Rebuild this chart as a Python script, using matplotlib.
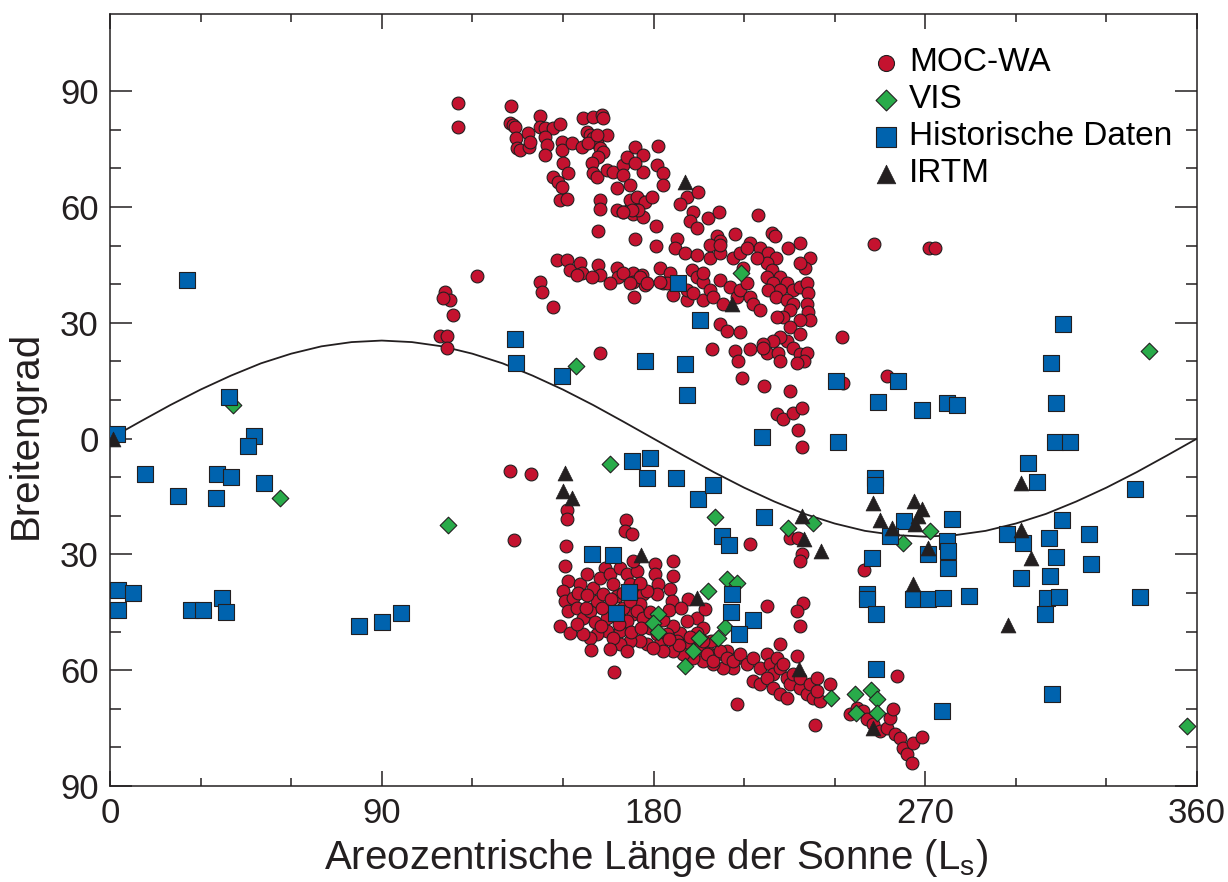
import matplotlib
matplotlib.use("Agg")
import matplotlib.pyplot as plt
from matplotlib.ticker import FixedLocator

plt.rcParams["font.family"] = ["Liberation Sans", "DejaVu Sans"]
plt.rcParams["mathtext.fontset"] = "custom"
plt.rcParams["mathtext.rm"] = "Liberation Sans"
plt.rcParams["mathtext.it"] = "Liberation Sans:italic"

# (Ls, Breitengrad)
moc_north = [
    (115.3, 86.9), (115.3, 80.7), (132.8, 86.1), (132.5, 81.7), (133.5, 81.2), (134.2, 80.7),
    (142.4, 83.5), (142.4, 80.7), (144.0, 80.4), (146.7, 80.4), (149.0, 81.4),
    (134.5, 77.8), (134.8, 75.2), (135.8, 74.7), (138.8, 75.5), (138.5, 79.1), (139.1, 76.8),
    (144.0, 78.1), (144.8, 76.0), (144.0, 73.4), (149.7, 76.8), (149.7, 74.7), (153.0, 76.5), (156.3, 75.5),
    (150.0, 71.3), (151.7, 68.7), (146.7, 67.7), (148.4, 66.4), (149.7, 65.1), (149.0, 61.7), (151.4, 62.2),
    (156.7, 83.0), (160.0, 83.2), (163.0, 83.8), (163.3, 83.0),
    (158.0, 79.4), (159.0, 78.6), (160.0, 77.8), (161.3, 76.5), (162.3, 75.2), (164.6, 78.6),
    (158.3, 76.5), (161.3, 78.6), (163.3, 74.2), (161.6, 72.9),
    (159.7, 71.3), (160.0, 68.7), (161.3, 67.7), (164.6, 69.5), (166.6, 69.0), (169.9, 70.8),
    (171.2, 72.9), (173.9, 75.5), (176.6, 73.4), (176.6, 69.0), (169.9, 68.2), (172.2, 65.6), (167.9, 64.8),
    (162.3, 61.7), (162.3, 59.6), (168.0, 59.1), (170.0, 58.6), (172.2, 59.6), (174.6, 60.4),
    (176.6, 61.2), (173.2, 58.3), (176.6, 57.3), (161.6, 53.7), (173.9, 51.6),
    (148.0, 46.2), (151.4, 46.2), (152.4, 43.6), (155.7, 45.4), (156.3, 43.0), (154.7, 42.3),
    (161.6, 44.9), (162.3, 42.3), (159.7, 41.8), (168.0, 44.1), (168.3, 41.8), (165.6, 40.2),
    (173.2, 42.8), (176.2, 42.3), (177.2, 39.7), (173.2, 40.5),
    (142.4, 40.5), (143.1, 37.9), (146.7, 34.2), (121.6, 42.0), (173.6, 36.6),
    (111.0, 37.9), (112.6, 35.8), (110.3, 36.3), (113.6, 31.9), (109.3, 26.7), (111.6, 26.7),
    (111.6, 23.6), (162.3, 22.3),
    (181.5, 75.7), (173.9, 71.3), (181.2, 70.8), (183.2, 68.7), (183.2, 65.6),
    (191.1, 62.5), (188.8, 60.9), (194.8, 63.8),
    (172.2, 61.7), (174.6, 62.5), (177.2, 61.2), (179.5, 62.5), (174.9, 59.1), (172.9, 59.1), (169.9, 58.6),
    (180.9, 55.0), (193.1, 58.6), (192.1, 56.5), (194.4, 54.5), (198.1, 57.1), (201.7, 58.6), (214.6, 57.8),
    (180.9, 49.8), (187.8, 51.6), (187.1, 49.3), (190.5, 48.2), (194.4, 47.5),
    (201.1, 52.6), (202.0, 51.3), (207.0, 52.9), (212.0, 50.8), (198.7, 46.7), (202.0, 48.2),
    (219.3, 53.2), (220.3, 52.6), (224.6, 49.3), (228.6, 50.6), (231.9, 46.7), (230.2, 44.3), (228.6, 45.6),
    (215.3, 49.5), (217.9, 48.0), (220.6, 46.9), (217.6, 45.4), (219.3, 43.6), (221.9, 41.8),
    (217.6, 41.8), (219.6, 40.2), (224.2, 40.2), (226.2, 38.4), (221.9, 38.4), (217.9, 38.4),
    (220.6, 36.6), (224.2, 35.8), (226.2, 35.0), (228.6, 39.2), (230.9, 40.2), (231.2, 37.6),
    (230.9, 35.0), (231.2, 32.7), (231.9, 30.6), (228.6, 30.6), (225.2, 33.2), (222.9, 31.4),
    (220.9, 31.4), (225.2, 28.8), (228.6, 27.2), (224.2, 25.4), (221.9, 26.2), (219.6, 25.4),
    (216.3, 24.6), (217.6, 22.3), (221.3, 22.3), (226.2, 23.6), (228.6, 22.0), (230.9, 22.3),
    (229.9, 20.2), (227.5, 19.7),
    (182.2, 44.1), (185.5, 43.0), (183.2, 40.2), (186.5, 37.1), (191.1, 35.8), (192.8, 43.6),
    (194.4, 41.8), (196.4, 40.5), (196.4, 35.8), (198.7, 38.4), (199.7, 36.6), (202.0, 41.0),
    (203.1, 35.0), (205.4, 39.2), (207.7, 36.6), (208.7, 38.4), (211.0, 40.2), (212.0, 36.6),
    (213.0, 35.0), (215.3, 33.2), (209.7, 44.3), (214.3, 46.9), (206.4, 46.7), (208.7, 48.2),
    (211.0, 49.5), (198.7, 50.1), (202.0, 50.1), (196.4, 42.8), (191.1, 38.4), (193.1, 37.6),
    (169.9, 42.8), (175.6, 41.8), (177.9, 40.2), (172.2, 40.2), (184.5, 40.2), (182.2, 40.5),
    (202.0, 29.8), (204.4, 28.0), (208.7, 27.5),
    (199.4, 23.1), (207.0, 22.8), (208.0, 20.2), (212.0, 23.3), (216.3, 23.6), (221.9, 20.2),
    (209.3, 15.8), (216.6, 13.5), (225.2, 12.4), (220.9, 6.5), (222.9, 5.2), (226.2, 6.7),
    (229.2, 8.0), (227.9, 2.1), (229.2, -2.3),
    (242.5, 26.2), (253.0, 50.3), (271.3, 49.5), (273.3, 49.3), (257.4, 16.1), (242.8, 14.3),
]

moc_south = [
    (132.5, -8.3), (139.4, -9.1), (133.8, -26.2), (151.4, -18.4), (151.4, -20.7), (151.0, -27.7),
    (170.9, -21.0), (170.6, -23.9), (172.9, -24.6),
    (150.7, -32.9), (151.7, -36.8), (150.0, -39.4), (150.7, -42.0), (151.7, -44.6), (149.0, -48.5), (152.4, -50.3),
    (153.4, -41.2), (154.7, -43.8), (156.7, -46.4), (159.0, -44.6), (161.3, -42.0), (155.7, -37.6),
    (158.0, -35.0), (160.0, -38.6), (163.3, -40.2), (163.9, -33.5), (162.3, -36.0), (165.6, -35.0),
    (166.6, -37.6), (167.9, -40.7), (169.0, -33.5), (171.2, -35.0), (174.6, -34.2), (172.2, -37.6),
    (175.6, -37.6), (176.6, -40.2), (175.6, -42.8), (173.2, -45.4), (171.2, -47.2), (169.0, -49.8),
    (164.6, -49.8), (161.3, -50.6), (159.0, -51.6), (156.7, -50.6), (154.7, -48.0), (164.6, -46.4),
    (167.9, -44.6), (169.9, -43.8), (172.2, -42.0), (174.6, -44.6), (176.6, -46.4), (178.9, -49.0),
    (181.2, -50.6), (182.2, -53.2), (177.9, -53.2), (175.6, -52.4), (172.2, -52.4), (169.0, -53.2), (166.6, -51.6),
    (180.5, -32.4), (186.5, -31.6), (186.5, -35.5), (180.5, -35.0), (181.5, -37.6), (185.5, -38.9),
    (186.2, -42.0), (181.2, -40.2), (177.9, -39.4), (175.6, -37.3), (173.2, -31.6),
    (191.5, -41.5), (194.4, -46.4), (197.1, -44.1), (196.4, -49.0), (194.4, -50.3), (191.1, -47.2),
    (188.8, -50.3), (186.5, -48.5), (184.5, -50.6), (187.8, -52.4), (191.1, -53.2), (194.4, -54.2),
    (197.7, -55.0), (201.1, -55.8), (204.4, -55.0), (207.7, -56.8), (206.4, -59.4), (203.1, -59.4),
    (199.7, -58.4), (196.4, -57.6), (193.1, -56.8), (189.8, -55.8), (186.5, -55.0), (183.2, -55.0), (179.9, -54.2),
    (159.3, -54.7), (165.6, -54.5), (171.2, -55.0), (166.9, -60.4),
    (195.4, -54.2), (197.7, -55.8), (199.7, -57.6), (202.0, -55.0), (204.4, -56.8), (206.4, -57.6),
    (208.7, -55.8), (211.0, -58.4), (213.0, -56.8), (215.3, -59.4), (217.6, -55.8), (218.6, -58.4),
    (219.6, -60.9), (220.9, -56.8), (221.9, -59.4), (224.2, -62.0), (222.9, -58.4), (225.2, -63.5),
    (226.2, -60.9), (228.6, -64.6), (228.6, -62.0), (230.9, -66.1), (231.9, -63.5), (232.9, -67.2),
    (234.2, -62.0), (235.2, -67.9), (234.2, -65.4), (221.9, -53.2), (227.5, -56.3), (213.0, -62.8),
    (215.3, -63.5), (217.6, -62.0), (219.6, -64.6), (221.9, -66.1), (224.2, -67.2),
    (238.5, -63.5), (207.7, -68.7), (233.5, -74.2), (260.7, -61.5),
    (245.1, -71.3), (247.4, -69.8), (249.4, -70.5), (250.7, -72.6), (252.7, -73.9), (255.0, -75.7),
    (257.4, -74.9), (258.4, -72.4), (259.4, -70.0), (260.0, -76.5), (261.7, -77.5), (262.7, -80.1),
    (264.0, -81.7), (265.6, -84.0), (266.0, -78.8), (268.9, -77.3),
    (212.0, -27.2), (225.2, -25.7), (227.9, -25.7), (229.2, -29.8), (228.6, -31.6), (229.5, -42.5),
    (227.5, -44.6), (228.6, -48.5), (217.6, -43.3), (249.7, -34.0),
    (155.0, -40.0), (157.5, -44.0), (160.5, -47.5), (163.0, -44.0), (166.0, -41.5), (170.0, -40.0),
    (158.0, -40.5), (162.5, -48.5), (168.5, -48.0), (172.5, -50.0), (176.0, -49.0), (179.0, -45.0),
    (183.0, -47.0), (185.0, -44.5), (189.0, -44.0), (192.0, -51.5), (188.5, -53.5), (199.0, -52.5),
    (196.5, -52.5), (185.0, -52.0),
]

vis = [
    (40.7, 8.6), (56.3, -15.3), (112.0, -22.3), (154.4, 18.7), (165.6, -6.5), (209.0, 43.0),
    (181.5, -45.4), (179.9, -47.7), (181.5, -50.1), (198.1, -39.4), (204.4, -36.3), (207.7, -37.3),
    (195.1, -51.6), (193.1, -55.0), (190.5, -58.9), (200.4, -20.2), (203.7, -48.8), (201.4, -51.6),
    (224.6, -23.1), (232.9, -21.8), (238.8, -67.2), (246.8, -66.1), (252.1, -65.1), (254.0, -67.4),
    (247.1, -71.1), (254.0, -71.1), (271.6, -23.9), (262.7, -27.0), (344.2, 22.6), (356.7, -74.4),
]

historisch = [
    (25.5, 41.0), (39.4, 10.9), (2.3, 1.3), (47.7, 0.8), (45.7, -1.8), (11.6, -9.3), (22.5, -15.0),
    (35.4, -9.3), (40.1, -9.9), (35.1, -15.3), (51.0, -11.4), (2.6, -39.2), (2.6, -44.3), (7.6, -39.9),
    (26.8, -44.3), (30.8, -44.3), (37.1, -41.2), (38.4, -44.9), (82.5, -48.5), (90.1, -47.5), (96.4, -45.1),
    (134.1, 25.7), (134.5, 19.5), (149.7, 16.1), (177.2, 20.2), (190.5, 19.2), (195.4, 30.6),
    (188.1, 40.2), (191.1, 11.4), (216.0, 0.3), (241.1, -0.8), (240.5, 15.0),
    (172.9, -5.7), (178.9, -4.9), (177.9, -10.1), (187.5, -10.1), (194.8, -15.6), (199.7, -11.9),
    (202.7, -25.2), (205.0, -27.5), (159.7, -29.8), (166.6, -30.1), (171.9, -39.7), (167.6, -45.1),
    (216.6, -20.2), (206.0, -40.2), (205.7, -44.9), (213.0, -46.9), (208.3, -50.6),
    (253.4, -10.1), (253.4, -12.0), (252.4, -30.9), (250.7, -40.2), (250.7, -41.5), (253.7, -45.4),
    (253.7, -59.6), (263.0, -21.3), (258.4, -25.2), (271.0, -29.8), (278.9, -20.7), (277.2, -26.5),
    (277.6, -29.0), (277.6, -33.5), (266.0, -41.5), (271.0, -41.5), (275.9, -41.2), (284.5, -40.7),
    (275.6, -70.5),
    (297.1, -24.6), (302.4, -27.0), (304.1, -6.2), (307.1, -11.2), (315.3, -21.0), (311.0, -25.7),
    (313.3, -30.6), (311.4, -35.5), (301.8, -36.0), (310.4, -41.2), (314.3, -41.0), (309.7, -45.4),
    (324.3, -24.6), (324.9, -32.4), (339.5, -13.0), (341.2, -41.0), (312.0, -66.1), (313.0, -1.0),
    (318.0, -1.0),
    (261.0, 15.0), (254.4, 9.6), (269.0, 7.5), (277.2, 9.1), (280.6, 8.6), (315.7, 29.8),
    (311.7, 19.7), (313.3, 9.1),
]

irtm = [
    (1.0, 0.0), (150.7, -8.8), (150.0, -13.7), (153.0, -15.3), (175.9, -30.1), (190.5, 66.4),
    (206.0, 34.8), (194.4, -41.2), (229.2, -20.0), (229.9, -25.9), (235.5, -29.0), (252.7, -16.6),
    (255.0, -21.0), (259.0, -23.1), (266.3, -16.1), (269.0, -18.2), (267.6, -20.0), (266.6, -22.0),
    (271.0, -28.3), (266.0, -37.6), (228.2, -59.6), (252.7, -75.0), (301.8, -11.4), (301.8, -23.6),
    (305.0, -30.9), (297.4, -48.2),
]

# subsolar latitude curve, read every 10 deg Ls
curve_ls = list(range(0, 361, 10))
curve_lat = [0.0, 4.4, 8.7, 12.7, 16.3, 19.5, 22.0, 23.9, 25.0, 25.4, 25.0, 23.9, 22.0, 19.5,
             16.3, 12.7, 8.7, 4.4, 0.0, -4.4, -8.7, -12.7, -16.3, -19.5, -22.0, -23.9, -25.0,
             -25.4, -25.0, -23.9, -22.0, -19.5, -16.3, -12.7, -8.7, -4.4, 0.0]

x_ticks = [0, 90, 180, 270, 360]
y_ticks = [-90, -60, -30, 0, 30, 60, 90]
y_tick_labels = ["90", "60", "30", "0", "30", "60", "90"]

dark = "#231f20"
red = "#c4122f"
green = "#29ab4a"
blue = "#0063ae"

fig = plt.figure(figsize=(12.28, 8.82), dpi=100)
ax = fig.add_axes([110 / 1228, 1 - 786 / 882, 1087 / 1228, 772 / 882])

ax.plot(curve_ls, curve_lat, color=dark, lw=1.3, zorder=1)

moc = moc_north + moc_south
ax.scatter([p[0] for p in moc], [p[1] for p in moc], s=85, marker="o", c=red,
           edgecolors=dark, linewidths=0.8, zorder=2, label="MOC-WA")
ax.scatter([p[0] for p in vis], [p[1] for p in vis], s=72, marker="D", c=green,
           edgecolors=dark, linewidths=0.8, zorder=3, label="VIS")
ax.scatter([p[0] for p in historisch], [p[1] for p in historisch], s=140, marker="s", c=blue,
           edgecolors=dark, linewidths=0.8, zorder=4, label="Historische Daten")
ax.scatter([p[0] for p in irtm], [p[1] for p in irtm], s=115, marker="^", c=dark,
           edgecolors=dark, linewidths=0.5, zorder=5, label="IRTM")

ax.set_xlim(0, 360)
ax.set_ylim(-90, 110)
ax.set_xticks(x_ticks)
ax.xaxis.set_minor_locator(FixedLocator([30, 60, 120, 150, 210, 240, 300, 330]))
ax.set_yticks(y_ticks)
ax.set_yticklabels(y_tick_labels)
ax.yaxis.set_minor_locator(FixedLocator([v for v in range(-80, 90, 10) if v % 30 != 0]))

ax.tick_params(axis="y", which="major", direction="in", length=16, width=1.1, left=True,
               right=True, labelsize=25, pad=8, color=dark, labelcolor=dark)
ax.tick_params(axis="y", which="minor", direction="in", length=8, width=1.1, left=True,
               right=True, color=dark)
ax.tick_params(axis="x", which="major", direction="in", length=11, width=1.1, top=True,
               bottom=True, labelsize=25, pad=8, color=dark, labelcolor=dark)
ax.tick_params(axis="x", which="minor", direction="in", length=5.5, width=1.1, top=True,
               bottom=True, color=dark)
for sp in ax.spines.values():
    sp.set_color(dark)
    sp.set_linewidth(1.1)

fig.text(25.5 / 1228, 1 - 435 / 882, "Breitengrad", rotation=90, ha="center", va="center",
         fontsize=29, color=dark)
fig.text(656 / 1228, 1 - 869 / 882, r"Areozentrische Länge der Sonne (L$_\mathrm{s}$)",
         ha="center", va="baseline", fontsize=29, color=dark)

ax.legend(loc="upper left", bbox_to_anchor=(0.689, 0.974), frameon=False, fontsize=24,
          handlelength=0.8, handletextpad=0.3, borderaxespad=0, borderpad=0.4,
          labelspacing=0.18, markerscale=1.25)

fig.savefig("out.png", dpi=100)
